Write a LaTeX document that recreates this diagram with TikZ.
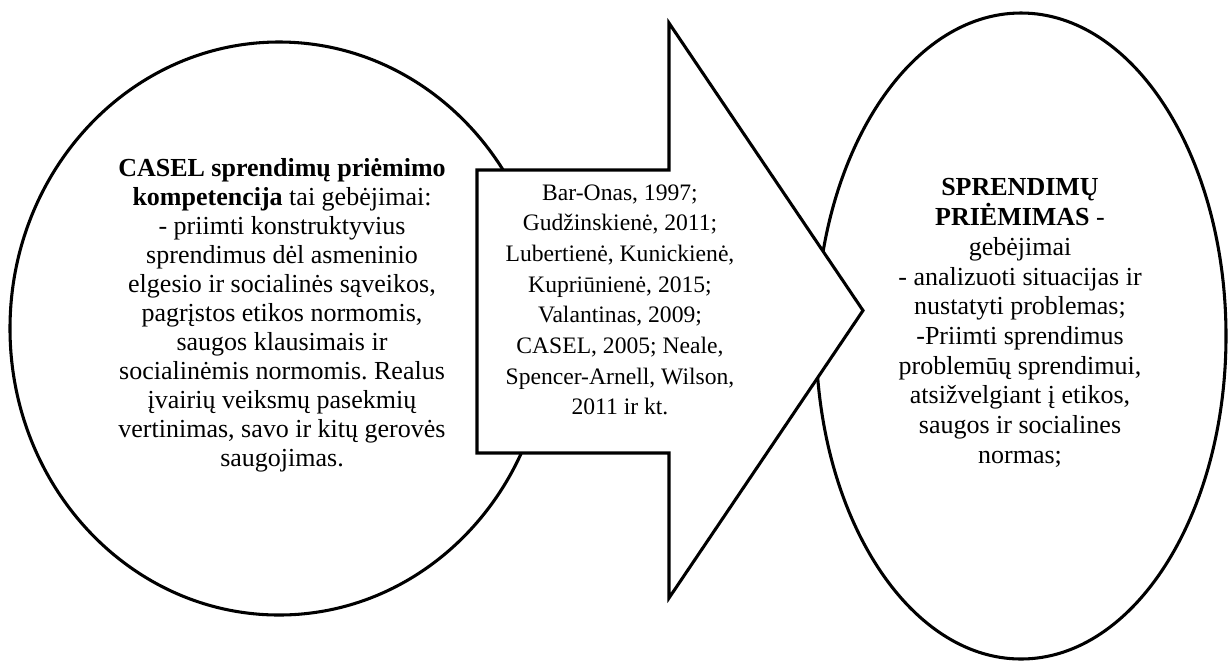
\documentclass[tikz,border=0pt]{standalone}
\usepackage{fontspec}
\setmainfont{Liberation Serif}
\usetikzlibrary{shapes.geometric}
\frenchspacing
\begin{document}
\begin{tikzpicture}[x=0.75pt,y=-0.75pt,
  outline/.style={draw=black,line width=2.3pt},
  blob/.style={outline,ellipse,inner sep=0pt,fill=white},
  bigtext/.style={align=center,inner sep=0pt,font=\fontsize{19.5}{21.75}\selectfont},
  midtext/.style={align=center,inner sep=0pt,font=\fontsize{17.7}{23}\selectfont},
  righttext/.style={align=center,inner sep=0pt,font=\fontsize{19.5}{22.3}\selectfont}]
\useasboundingbox (0,0) rectangle (1230,662);

% the two ovals
\node[blob,minimum width=538*0.75pt,minimum height=573*0.75pt] (left) at (279,328.5) {};
\node[blob,minimum width=410*0.75pt,minimum height=646*0.75pt] (right) at (1021,336) {};

% block arrow between them, drawn over the ovals
\draw[outline,fill=white,line join=miter]
  (477,170) -- (669,170) -- (669,23) -- (863,310.5) -- (669,598) -- (669,453) -- (477,453) -- cycle;

% texts
\node[bigtext] (lefttext) at (282,315) {%
  \textbf{CASEL sprendimų priėmimo}\\
  \textbf{kompetencija} tai gebėjimai:\\
  - priimti konstruktyvius\\
  sprendimus dėl asmeninio\\
  elgesio ir socialinės sąveikos,\\
  pagrįstos etikos normomis,\\
  saugos klausimais ir\\
  socialinėmis normomis. Realus\\
  įvairių veiksmų pasekmių\\
  vertinimas, savo ir kitų gerovės\\
  saugojimas.};

\node[midtext] (refs) at (620,300) {%
  Bar-Onas, 1997;\\
  Gudžinskienė, 2011;\\
  Lubertienė, Kunickienė,\\
  Kupriūnienė, 2015;\\
  Valantinas, 2009;\\
  CASEL, 2005; Neale,\\
  Spencer-Arnell, Wilson,\\
  2011 ir kt.};

\node[righttext] (righttxt) at (1020,323) {%
  \textbf{SPRENDIMŲ}\\
  \textbf{PRIĖMIMAS} -\\
  gebėjimai\\
  - analizuoti situacijas ir\\
  nustatyti problemas;\\
  -Priimti sprendimus\\
  problemūų sprendimui,\\
  atsižvelgiant į etikos,\\
  saugos ir socialines\\
  normas;};
\end{tikzpicture}
\end{document}
